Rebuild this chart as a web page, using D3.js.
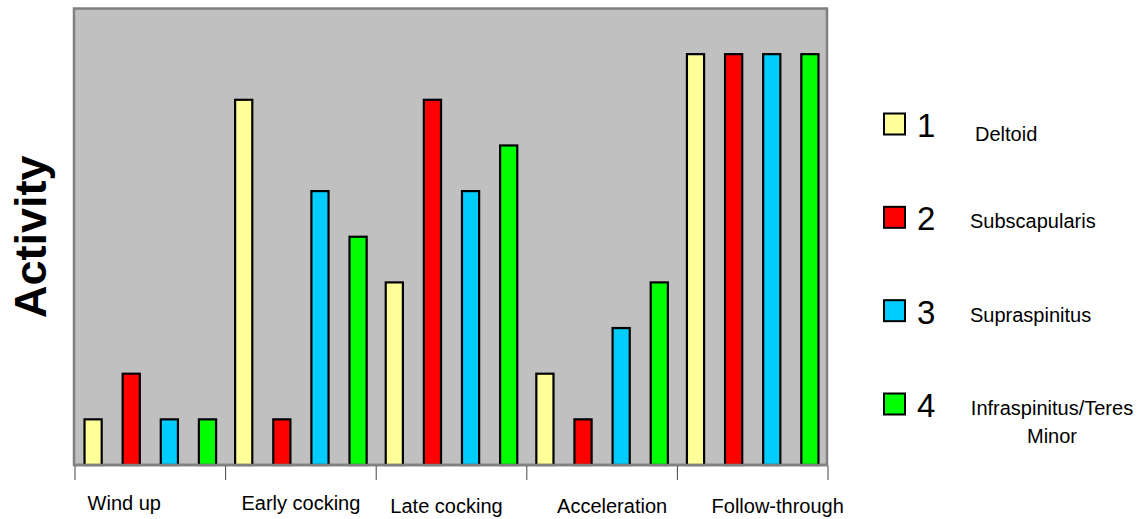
<!DOCTYPE html>
<html>
<head>
<meta charset="utf-8">
<script src="https://cdn.jsdelivr.net/npm/d3@7"></script>
<style>
  html, body { margin: 0; padding: 0; background: #ffffff; }
  svg { display: block; font-family: "Liberation Sans", Arial, sans-serif; }
</style>
</head>
<body>
<svg id="chart" width="1141" height="519"></svg>
<script>
// ---- data ----
const categories = ["Wind up", "Early cocking", "Late cocking", "Acceleration", "Follow-through"];
const seriesNames = ["Deltoid", "Subscapularis", "Supraspinitus", "Infraspinitus/Teres Minor"];
const seriesNumbers = ["1", "2", "3", "4"];
const deltoid       = [1, 8, 4, 2, 9];
const subscapularis = [2, 1, 8, 1, 9];
const supraspinitus = [1, 6, 6, 3, 9];
const infraspinitus = [1, 5, 7, 4, 9];
const yMax = 10;

// ---- styles ----
const colors = ["#ffff99", "#ff0000", "#00ccff", "#00ff00"];
const labelNudgeX = [-26, 0, -5, 10, 25];
const labelNudgeY = [-2, -2, 1, 1, 1];

const series = [deltoid, subscapularis, supraspinitus, infraspinitus];

const svg = d3.select("#chart");
const plot = { left: 75, right: 828, top: 8.5, bottom: 465 };

const x0 = d3.scaleBand().domain(categories).range([plot.left, plot.right]).padding(0);
const x1 = d3.scaleBand().domain(d3.range(series.length))
  .range([0, x0.bandwidth()]).paddingInner(0.55).paddingOuter(0.25);
const y = d3.scaleLinear().domain([0, yMax]).range([plot.bottom, plot.top]);

// plot background
svg.append("rect")
  .attr("x", plot.left - 1).attr("y", plot.top)
  .attr("width", plot.right - plot.left).attr("height", plot.bottom - plot.top)
  .attr("fill", "#c0c0c0")
  .attr("stroke", "#808080").attr("stroke-width", 2.5);

// bars
const groups = svg.append("g").selectAll("g")
  .data(categories).join("g")
  .attr("transform", d => `translate(${x0(d)},0)`);

groups.selectAll("rect")
  .data((c, ci) => series.map((s, si) => ({ si, v: s[ci] })))
  .join("rect")
  .attr("x", d => x1(d.si))
  .attr("width", x1.bandwidth())
  .attr("y", d => y(d.v))
  .attr("height", d => y(0) - y(d.v))
  .attr("fill", d => colors[d.si])
  .attr("stroke", "#000").attr("stroke-width", 2.2);

// x axis
const xAxis = svg.append("g").attr("transform", `translate(0,${plot.bottom})`);
xAxis.append("line")
  .attr("x1", plot.left - 1).attr("x2", plot.right)
  .attr("y1", 0).attr("y2", 0)
  .attr("stroke", "#808080").attr("stroke-width", 2.5);
const tickPositions = categories.map(c => x0(c)).concat([x0.range()[1]]);
xAxis.selectAll("line.tick").data(tickPositions).join("line")
  .attr("class", "tick")
  .attr("x1", d => d).attr("x2", d => d)
  .attr("y1", 1).attr("y2", 15)
  .attr("stroke", "#444").attr("stroke-width", 1);
xAxis.selectAll("text").data(categories).join("text")
  .attr("x", (d, i) => x0(d) + x0.bandwidth() / 2 + labelNudgeX[i])
  .attr("y", (d, i) => 47 + labelNudgeY[i])
  .attr("text-anchor", "middle")
  .attr("font-size", 20)
  .attr("fill", "#000")
  .text(d => d);

// y title
svg.append("text")
  .attr("transform", `translate(46,${(plot.top + plot.bottom) / 2}) rotate(-90)`)
  .attr("text-anchor", "middle")
  .attr("font-size", 45)
  .attr("font-weight", "bold")
  .attr("fill", "#000")
  .text("Activity");

// legend
const legendY = d3.scalePoint().domain(d3.range(series.length)).range([124, 404]);
const legend = svg.append("g");
const items = legend.selectAll("g").data(seriesNames).join("g")
  .attr("transform", (d, i) => `translate(0,${legendY(i)})`);
items.append("rect")
  .attr("x", 884).attr("y", -10.5).attr("width", 21).attr("height", 21)
  .attr("fill", (d, i) => colors[i])
  .attr("stroke", "#000").attr("stroke-width", 2);
items.append("text")
  .attr("x", 917).attr("y", 13)
  .attr("font-size", 33)
  .attr("fill", "#000")
  .text((d, i) => seriesNumbers[i]);
items.each(function (d, i) {
  const g = d3.select(this);
  const words = d.split(" ");
  if (words.length > 1) {
    const t = g.append("text").attr("font-size", 20).attr("fill", "#000")
      .attr("text-anchor", "middle");
    t.append("tspan").attr("x", 1052).attr("y", 11).text(words[0]);
    t.append("tspan").attr("x", 1052).attr("y", 39).text(words.slice(1).join(" "));
  } else {
    g.append("text").attr("font-size", 20).attr("fill", "#000")
      .attr("x", i === 0 ? 975 : 970).attr("y", i === 0 ? 17 : 11)
      .text(d);
  }
});
</script>
</body>
</html>
